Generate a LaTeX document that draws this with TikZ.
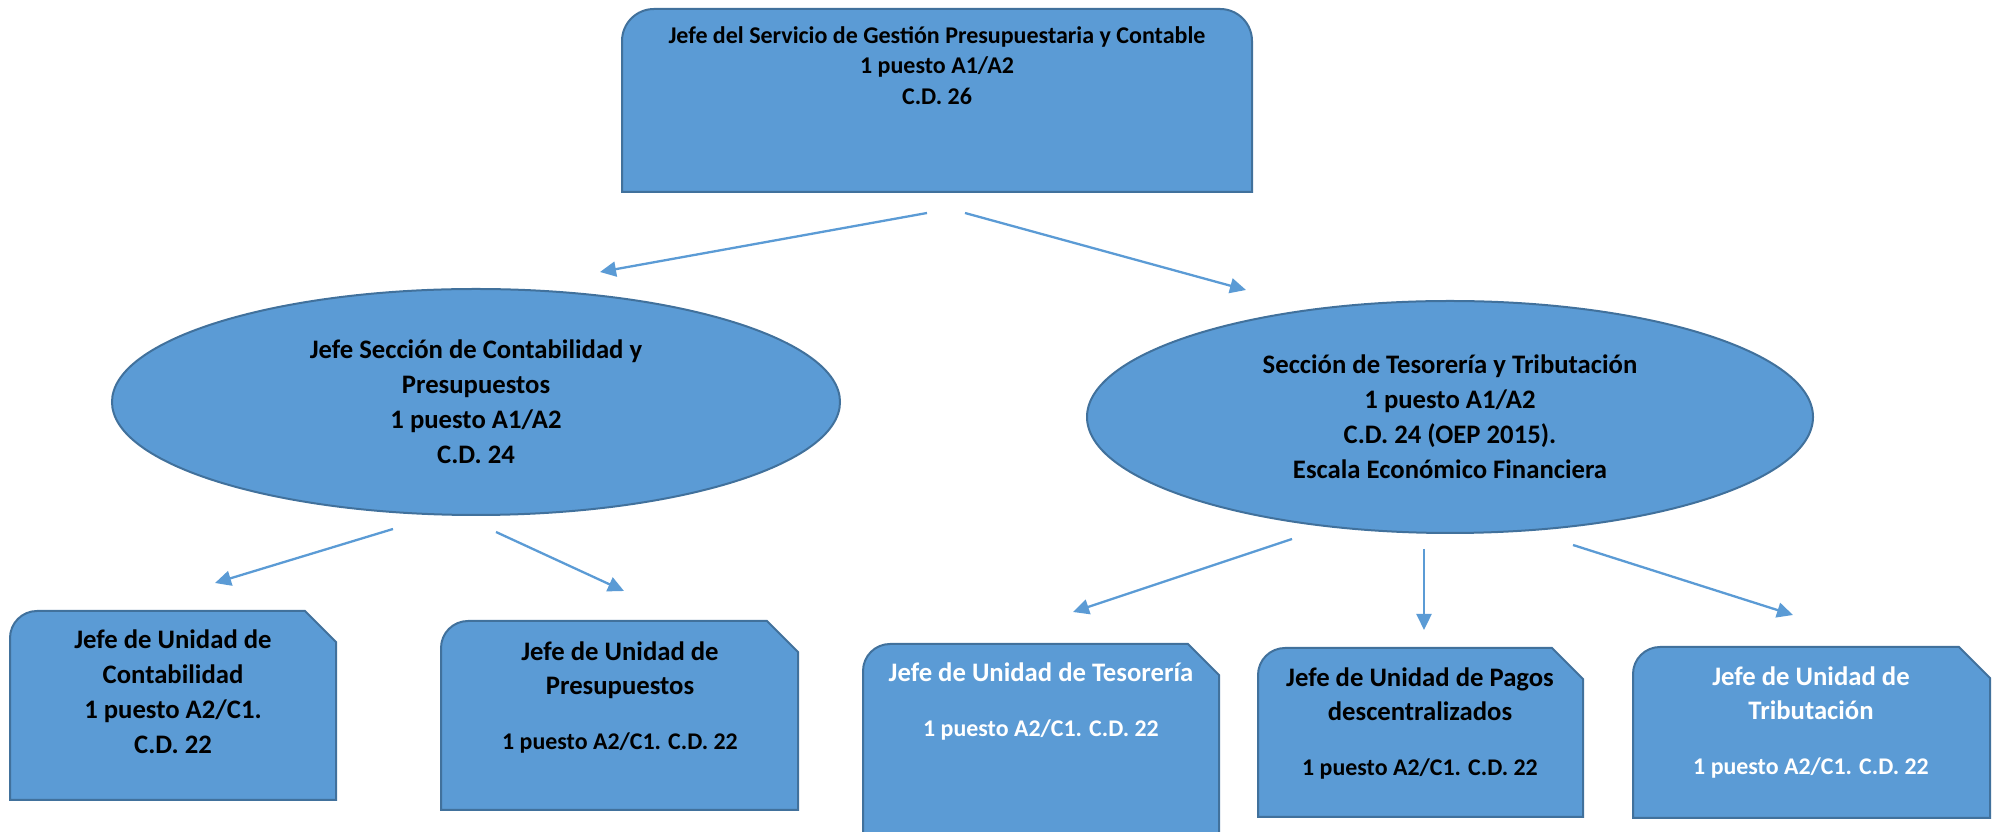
\documentclass[tikz,border=0pt]{standalone}
\usepackage{fontspec}
\setmainfont{Carlito}
\usetikzlibrary{arrows.meta,shapes.geometric}

\definecolor{boxblue}{HTML}{5B9BD5}
\definecolor{boxedge}{HTML}{41719C}

% box with rounded top-left and cut top-right corner: x left, x right, y top, y bottom
\newcommand{\snipbox}[4]{%
  \draw[box] (#1,#4) -- (#1,{#3-27}) arc[start angle=180,end angle=90,radius=27]
    -- ({#2-31},#3) -- (#2,{#3-31}) -- (#2,#4) -- cycle;}
% post line, a bit smaller
\newcommand{\postline}{{\fontsize{23.9}{30}\selectfont 1 puesto A2/C1. C.D. 22}}

\begin{document}
\begin{tikzpicture}[x=1pt,y=1pt,
  box/.style={fill=boxblue,draw=boxedge,line width=2pt},
  txt/.style={font=\fontsize{26.7}{35}\selectfont\bfseries,align=center,inner sep=0pt},
  arr/.style={draw=boxblue,line width=2.3pt,-{Triangle[length=16pt,width=15pt]}}]
\useasboundingbox (0,0) rectangle (1999,832);

% Head of service
\draw[box] (622,640) -- (622,791) arc[start angle=180,end angle=90,radius=32]
  -- (1220,823) arc[start angle=90,end angle=0,radius=32] -- (1252,640) -- cycle;
\node[txt,font=\fontsize{24}{30.5}\selectfont\bfseries,anchor=north] (chief) at (937,806)
  {Jefe del Servicio de Gestión Presupuestaria y Contable\\1 puesto A1/A2\\C.D. 26};

% Sections
\node[box,ellipse,txt,minimum width=728,minimum height=226] (secCont) at (476,430)
  {Jefe Sección de Contabilidad y\\Presupuestos\\1 puesto A1/A2\\C.D. 24};
\node[box,ellipse,txt,minimum width=726,minimum height=232] (secTes) at (1450,415)
  {Sección de Tesorería y Tributación\\1 puesto A1/A2\\C.D. 24 (OEP 2015).\\Escala Económico Financiera};

% Units
\snipbox{10}{336}{221}{32}
\snipbox{441}{798}{211}{22}
\snipbox{863}{1219}{188}{-5}
\snipbox{1258}{1583}{184}{15}
\snipbox{1633}{1990}{185}{14}

\node[txt,anchor=north] (uCont) at (173,202)
  {Jefe de Unidad de\\Contabilidad\\1 puesto A2/C1.\\C.D. 22};
\node[txt,anchor=north,font=\fontsize{26.7}{34}\selectfont\bfseries] (uPres) at (620,190)
  {Jefe de Unidad de\\Presupuestos\\[21pt]\postline};
\node[txt,anchor=north,text=white] (uTes) at (1041,169)
  {Jefe de Unidad de Tesorería\\[20pt]\postline};
\node[txt,anchor=north,font=\fontsize{26.7}{34}\selectfont\bfseries] (uPagos) at (1420,164)
  {Jefe de Unidad de Pagos\\descentralizados\\[21pt]\postline};
\node[txt,anchor=north,text=white,font=\fontsize{26.7}{34}\selectfont\bfseries] (uTrib) at (1811,165)
  {Jefe de Unidad de\\Tributación\\[21pt]\postline};

% Arrow ends
\coordinate (a1s) at (927,619);  \coordinate (a1e) at (600,560);
\coordinate (a2s) at (965,619);  \coordinate (a2e) at (1246,542);
\coordinate (a3s) at (393,303);  \coordinate (a3e) at (215,249);
\coordinate (a4s) at (496,300);  \coordinate (a4e) at (624,241);
\coordinate (a5s) at (1292,293); \coordinate (a5e) at (1073,220);
\coordinate (a6s) at (1424,283); \coordinate (a6e) at (1424,202);
\coordinate (a7s) at (1573,287); \coordinate (a7e) at (1793,217);

% Arrows
\foreach \i in {1,...,7}
  \draw[arr] (a\i s) -- (a\i e);
\end{tikzpicture}
\end{document}
